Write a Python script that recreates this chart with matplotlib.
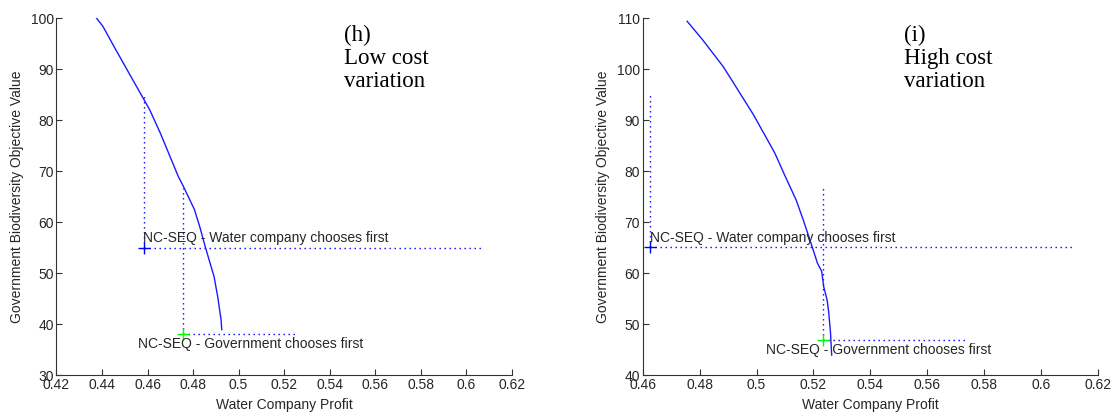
import matplotlib
matplotlib.use('Agg')
import matplotlib.pyplot as plt

# panel (h) - low cost variation
h_profit = [0.4376, 0.4404, 0.4452, 0.4543, 0.4609, 0.4656, 0.4735, 0.4758,
            0.4806, 0.4829, 0.4853, 0.4892, 0.4908, 0.4923, 0.4926]
h_biodiv = [100, 98.4, 94.5, 87.3, 82.1, 77.5, 69.0, 67.0,
            62.5, 59.2, 55.3, 49.4, 45.5, 40.9, 39.0]
h_water_first = (0.4584, 55.0)
h_gov_first = (0.4755, 38.2)
h_water_guides = (85.0, 0.607)   # top of vertical guide, end of horizontal guide
h_gov_guides = (66.7, 0.525)
h_xticks = [0.42, 0.44, 0.46, 0.48, 0.5, 0.52, 0.54, 0.56, 0.58, 0.6, 0.62]
h_yticks = [30, 40, 50, 60, 70, 80, 90, 100]

# panel (i) - high cost variation
i_profit = [0.4756, 0.4810, 0.4883, 0.4908, 0.4989, 0.5064, 0.5096, 0.5139, 0.5164,
            0.5195, 0.5214, 0.5229, 0.5236, 0.5248, 0.5254, 0.5260, 0.5264]
i_biodiv = [109.4, 105.8, 100.5, 98.3, 91.1, 83.6, 79.6, 74.4, 70.5,
            65.3, 62.0, 60.4, 57.4, 54.8, 52.2, 48.3, 44.0]
i_water_first = (0.4627, 65.1)
i_gov_first = (0.5233, 47.0)
i_water_guides = (95.0, 0.6117)
i_gov_guides = (77.0, 0.5732)
i_xticks = [0.46, 0.48, 0.5, 0.52, 0.54, 0.56, 0.58, 0.6, 0.62]
i_yticks = [40, 50, 60, 70, 80, 90, 100, 110]

txt_col = '#262626'
plt.rcParams['font.family'] = ['Liberation Sans', 'DejaVu Sans']


def draw_panel(ax, profit, biodiv, water_first, gov_first, water_guides, gov_guides,
               xticks, yticks, panel_text, water_lbl_pos, gov_lbl_pos, title_pos):
    dots = dict(color='b', lw=1.0, dashes=(1, 2.6))
    # guide lines through the two equilibria
    ax.plot([water_first[0], water_first[0]], [water_first[1], water_guides[0]], **dots)
    ax.plot([water_first[0], water_guides[1]], [water_first[1], water_first[1]], **dots)
    ax.plot([gov_first[0], gov_first[0]], [gov_first[1], gov_guides[0]], **dots)
    ax.plot([gov_first[0], gov_guides[1]], [gov_first[1], gov_first[1]], **dots)

    ax.plot(profit, biodiv, color='#1a1aff', lw=1.0)
    ax.plot(*water_first, marker='+', color='b', ms=8, mew=1.0)
    ax.plot(*gov_first, marker='+', color='#00ff00', ms=8, mew=1.0)

    ax.text(water_lbl_pos[0], water_lbl_pos[1], 'NC-SEQ - Water company chooses first',
            fontsize=10, color=txt_col, va='center', ha='left')
    ax.text(gov_lbl_pos[0], gov_lbl_pos[1], 'NC-SEQ - Government chooses first',
            fontsize=10, color=txt_col, va='center', ha='left')
    ax.text(title_pos[0], title_pos[1], panel_text, family='Liberation Serif',
            fontsize=16.5, va='top', ha='left', linespacing=1.12, color='k')

    ax.set_xlim(xticks[0], xticks[-1])
    ax.set_ylim(yticks[0], yticks[-1])
    ax.set_xticks(xticks)
    ax.set_yticks(yticks)
    ax.set_xticklabels([('%g' % t) for t in xticks])
    ax.spines['top'].set_visible(False)
    ax.spines['right'].set_visible(False)
    for s in ['left', 'bottom']:
        ax.spines[s].set_color('#333333')
        ax.spines[s].set_linewidth(0.8)
    ax.tick_params(direction='in', length=4, width=0.8, color='#333333',
                   labelsize=10, labelcolor=txt_col, pad=2)
    ax.set_xlabel('Water Company Profit', fontsize=10, color=txt_col, labelpad=4)
    ax.set_ylabel('Government Biodiversity Objective Value', fontsize=10,
                  color=txt_col, labelpad=5)


fig = plt.figure(figsize=(11.16, 4.15), dpi=100)
ax1 = fig.add_axes([0.0506, 0.0952, 0.408, 0.861])
ax2 = fig.add_axes([0.5759, 0.0952, 0.408, 0.861])

draw_panel(ax1, h_profit, h_biodiv, h_water_first, h_gov_first, h_water_guides, h_gov_guides,
           h_xticks, h_yticks, '(h)\nLow cost\nvariation',
           (0.4582, 56.9), (0.4557, 36.1), (0.5463, 98.7))
draw_panel(ax2, i_profit, i_biodiv, i_water_first, i_gov_first, i_water_guides, i_gov_guides,
           i_xticks, i_yticks, '(i)\nHigh cost\nvariation',
           (0.4624, 66.9), (0.5033, 45.0), (0.5517, 108.7))

fig.savefig('out.png', dpi=100)
